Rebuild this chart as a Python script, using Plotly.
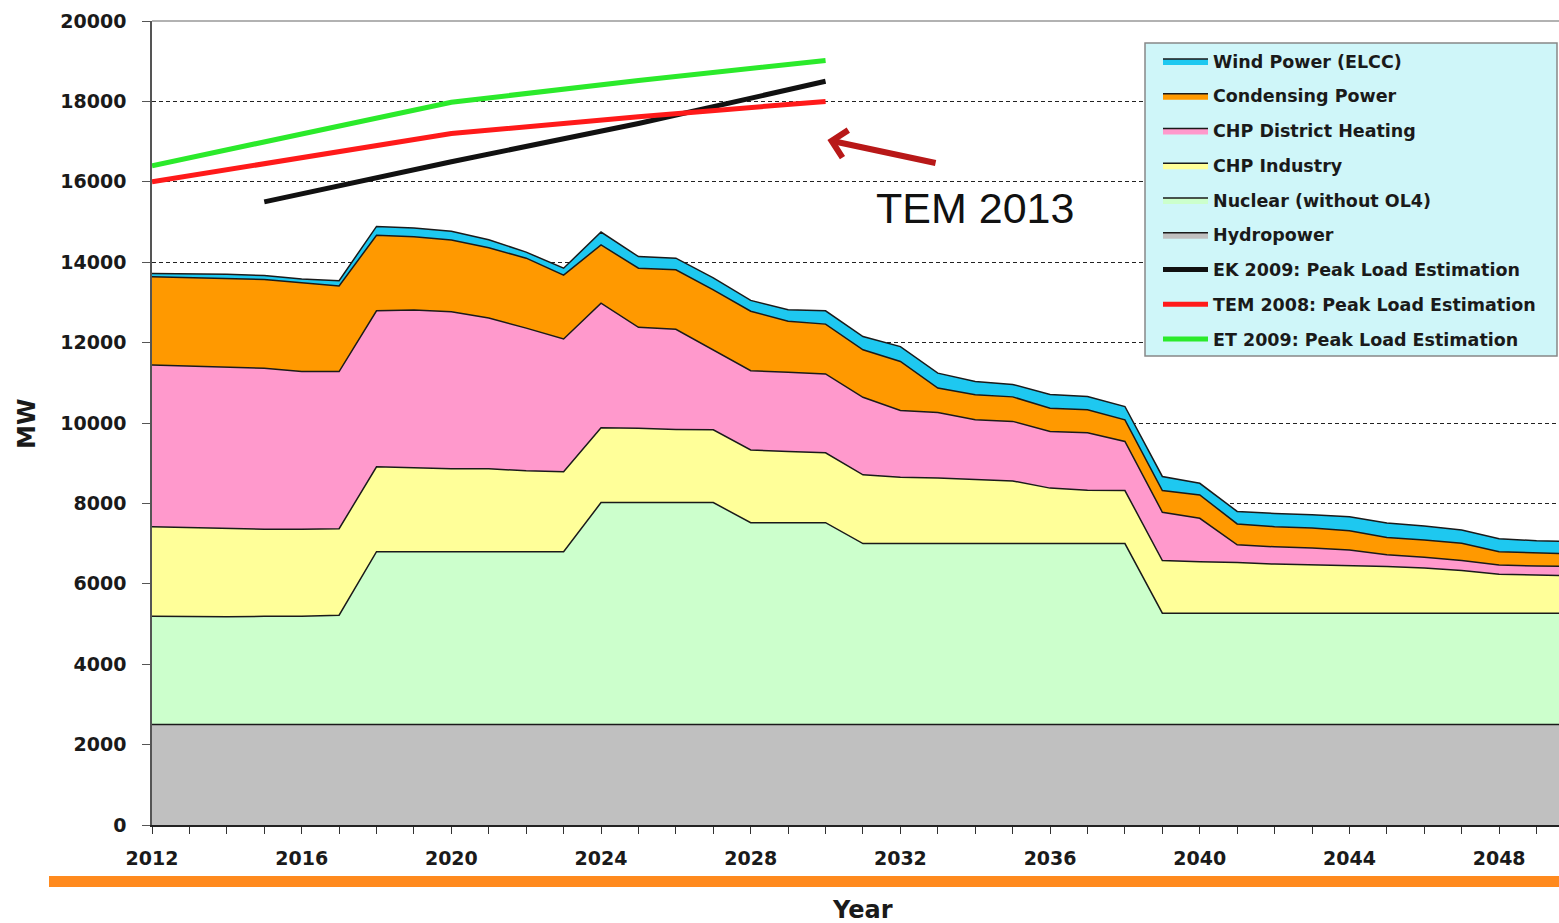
import plotly.graph_objects as go

years = list(range(2012, 2051))

hydro = [2500, 2500, 2500, 2500, 2500, 2500, 2500, 2500, 2500, 2500, 2500, 2500, 2500,
         2500, 2500, 2500, 2500, 2500, 2500, 2500, 2500, 2500, 2500, 2500, 2500, 2500,
         2500, 2500, 2500, 2500, 2500, 2500, 2500, 2500, 2500, 2500, 2500, 2500, 2500]
nuclear = [2690, 2680, 2680, 2690, 2690, 2720, 4300, 4300, 4300, 4300, 4300, 4300, 5520,
           5520, 5520, 5520, 5020, 5020, 5020, 4500, 4500, 4500, 4500, 4500, 4500, 4500,
           4500, 2770, 2770, 2770, 2770, 2770, 2770, 2770, 2770, 2770, 2770, 2770, 2770]
chp_industry = [2230, 2220, 2210, 2170, 2170, 2150, 2110, 2090, 2060, 2060, 2010, 1990, 1860,
                1850, 1820, 1810, 1810, 1770, 1740, 1710, 1650, 1630, 1600, 1560, 1380, 1330,
                1320, 1310, 1280, 1260, 1220, 1200, 1170, 1160, 1120, 1060, 970, 940, 930]
chp_district = [4020, 4010, 4000, 4000, 3920, 3910, 3880, 3920, 3910, 3750, 3550, 3300, 3100,
                2510, 2490, 1990, 1970, 1970, 1960, 1930, 1660, 1630, 1480, 1480, 1410, 1430,
                1220, 1200, 1080, 440, 430, 420, 400, 290, 270, 250, 230, 230, 230]
condensing = [2200, 2210, 2210, 2210, 2210, 2130, 1880, 1820, 1780, 1750, 1740, 1590, 1450,
              1470, 1480, 1490, 1480, 1270, 1240, 1180, 1220, 610, 620, 610, 580, 570,
              540, 540, 580, 520, 500, 500, 480, 430, 430, 430, 330, 320, 310]
wind = [80, 90, 100, 100, 90, 130, 220, 220, 220, 200, 150, 170, 320,
        290, 290, 300, 270, 290, 330, 330, 370, 370, 330, 310, 340, 330,
        330, 350, 290, 310, 330, 330, 350, 360, 350, 330, 320, 310, 310]

ek_years = [2015, 2020, 2025, 2030]
ek_2009 = [15500, 16500, 17450, 18500]
tem_years = [2012, 2014, 2017, 2020, 2025, 2030]
tem_2008 = [16000, 16300, 16780, 17200, 17620, 18000]
et_years = [2012, 2014, 2017, 2020, 2025, 2030]
et_2009 = [16400, 16800, 17380, 17980, 18520, 19020]

area_names = ["Hydropower", "Nuclear (without OL4)", "CHP Industry",
              "CHP District Heating", "Condensing Power", "Wind Power (ELCC)"]
area_values = [hydro, nuclear, chp_industry, chp_district, condensing, wind]
area_colors = ["#C0C0C0", "#CCFFCC", "#FFFF99", "#FF99CC", "#FF9900", "#1EC8F0"]
area_ranks = [6, 5, 4, 3, 2, 1]

line_names = ["EK 2009: Peak Load Estimation", "TEM 2008: Peak Load Estimation",
              "ET 2009: Peak Load Estimation"]
line_x = [ek_years, tem_years, et_years]
line_y = [ek_2009, tem_2008, et_2009]
line_colors = ["#111111", "#FF1A1A", "#2BEA2B"]
line_ranks = [7, 8, 9]

annotation_text = "TEM 2013"
x_title = "Year"
y_title = "MW"

fig = go.Figure()
for name, vals, col, rk in zip(area_names, area_values, area_colors, area_ranks):
    fig.add_trace(go.Scatter(
        x=years, y=vals, name=name, stackgroup="cap", mode="lines",
        line=dict(color="#1a1a1a", width=1.5), fillcolor=col,
        legendgroup=name, legendrank=rk))
for name, xs, ys, col, rk in zip(line_names, line_x, line_y, line_colors, line_ranks):
    fig.add_trace(go.Scatter(
        x=xs, y=ys, name=name, mode="lines",
        line=dict(color=col, width=5), legendgroup=name, legendrank=rk))

tick_font = dict(family="DejaVu Sans", size=19, color="#1a1a1a", weight="bold")

# plot area in pixels: x 152..1559, y 21..825
def px(x):
    return (x - 152) / 1407.0

def py(y):
    return (825 - y) / 804.0

fig.update_layout(
    width=1559, height=923,
    margin=dict(l=152, r=0, t=21, b=98),
    paper_bgcolor="white", plot_bgcolor="white",
    showlegend=True,
    legend=dict(
        x=px(1158), y=py(43), xanchor="left", yanchor="top",
        bgcolor="rgba(0,0,0,0)", borderwidth=0,
        font=dict(family="DejaVu Sans", size=17.5, color="#1a1a1a", weight="bold"),
        traceorder="grouped", tracegroupgap=9, itemwidth=45,
    ),
    xaxis=dict(
        range=[2012, 2049.6], tick0=2012, dtick=4, ticks="outside", ticklen=7,
        tickcolor="#333", tickwidth=1, showgrid=False, zeroline=False,
        showline=True, linecolor="#222", linewidth=1.5,
        tickfont=tick_font, ticklabelstandoff=8,
        minor=dict(dtick=1, tick0=2012, ticks="outside", ticklen=7,
                   tickcolor="#333", showgrid=False),
    ),
    yaxis=dict(
        range=[0, 20000], dtick=2000, tickformat="d", ticks="outside", ticklen=8,
        tickcolor="#555", showgrid=True, gridcolor="#222", gridwidth=1,
        griddash="4px,3px", zeroline=False, showline=True,
        linecolor="#555", linewidth=1.5, tickfont=tick_font,
        ticklabelstandoff=12,
    ),
)

# legend box
fig.add_shape(type="rect", xref="paper", yref="paper",
              x0=px(1145), x1=px(1557), y0=py(356), y1=py(43),
              line=dict(color="#888888", width=1.5), fillcolor="#CFF6F9", layer="above")
fig.add_shape(type="line", xref="paper", yref="paper", x0=0, x1=1, y0=1, y1=1,
              line=dict(color="#999999", width=1.5))
fig.add_shape(type="rect", xref="paper", yref="paper",
              x0=px(49), x1=1.0, y0=py(887), y1=py(876),
              line=dict(width=0), fillcolor="#FF8A1E")

fig.add_annotation(x=2030.05, y=17040, ax=2032.98, ay=16460, xref="x", yref="y",
                   axref="x", ayref="y", text="", showarrow=True,
                   arrowhead=4, arrowsize=0.9, arrowwidth=6, arrowcolor="#B81818")
fig.add_annotation(x=2034.0, y=15350, xref="x", yref="y", text=annotation_text,
                   showarrow=False, font=dict(family="Liberation Sans", size=43, color="#111"))
fig.add_annotation(x=px(862), y=py(910), xref="paper", yref="paper", text=x_title,
                   showarrow=False, yanchor="middle",
                   font=dict(family="DejaVu Sans", size=24, color="#1a1a1a", weight="bold"))
fig.add_annotation(x=px(27), y=py(424), xref="paper", yref="paper", text=y_title,
                   showarrow=False, textangle=-90, xanchor="center",
                   font=dict(family="DejaVu Sans", size=24, color="#1a1a1a", weight="bold"))

fig.write_html("out.html", config={"displayModeBar": False},
               post_script="document.body.style.margin='0';document.body.style.padding='0';")
